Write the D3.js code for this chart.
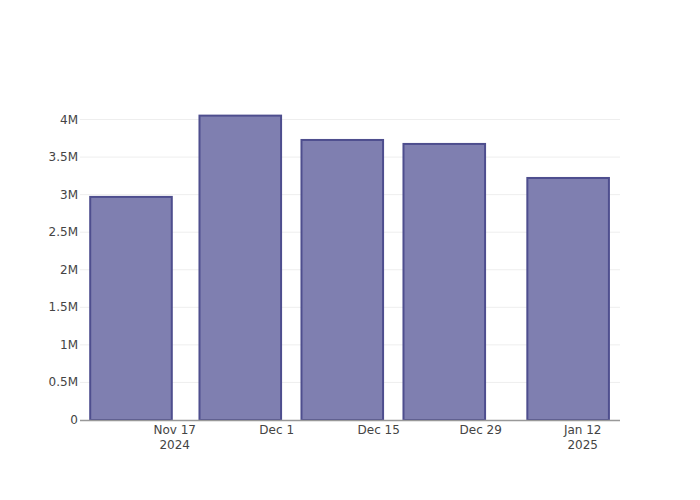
<!DOCTYPE html>
<html>
<head>
<meta charset="utf-8">
<script src="https://cdn.jsdelivr.net/npm/d3@7"></script>
<style>
  html, body { margin: 0; padding: 0; background: #fff; }
  svg { display: block; }
</style>
</head>
<body>
<div id="chart"></div>
<script>
// ---- data ----
const barDates = ["2024-11-11", "2024-11-26", "2024-12-10", "2024-12-24", "2025-01-10"];
const barValues = [2970000, 4052000, 3728000, 3675000, 3222000];
const xTickDates = ["2024-11-17", "2024-12-01", "2024-12-15", "2024-12-29", "2025-01-12"];
const xTickLabels = [["Nov 17", "2024"], ["Dec 1"], ["Dec 15"], ["Dec 29"], ["Jan 12", "2025"]];
const yTickValues = [0, 500000, 1000000, 1500000, 2000000, 2500000, 3000000, 3500000, 4000000];
const yTickLabels = ["0", "0.5M", "1M", "1.5M", "2M", "2.5M", "3M", "3.5M", "4M"];

// ---- layout ----
const W = 700, H = 500;
const margin = { l: 80, r: 80, t: 100, b: 80 };
const parse = d3.utcParse("%Y-%m-%d");
const DAY = 86400000;

const svg = d3.select("#chart").append("svg").attr("width", W).attr("height", H);

const x = d3.scaleUtc()
  .domain([parse("2024-11-04"), new Date(parse("2025-01-17").getTime() + 0.12 * DAY)])
  .range([margin.l, W - margin.r]);
const y = d3.scaleLinear()
  .domain([0, 4260000])
  .range([H - margin.b, margin.t]);

const font = "'DejaVu Sans', Verdana, sans-serif";

// grid
svg.append("g").selectAll("line").data(yTickValues.filter(v => v > 0)).join("line")
  .attr("x1", margin.l).attr("x2", W - margin.r)
  .attr("y1", d => y(d)).attr("y2", d => y(d))
  .attr("stroke", "#eeeeee").attr("stroke-width", 1);

// bars
const dates = barDates.map(parse);
const minGap = d3.min(d3.pairs(dates), ([a, b]) => b - a);
const halfW = 0.4 * minGap;
svg.append("g").selectAll("rect").data(barValues).join("rect")
  .attr("x", (d, i) => x(new Date(dates[i].getTime() - halfW)))
  .attr("width", (d, i) => x(new Date(dates[i].getTime() + halfW)) - x(new Date(dates[i].getTime() - halfW)))
  .attr("y", d => y(d))
  .attr("height", d => y(0) - y(d))
  .attr("fill", "#7f7fb0")
  .attr("stroke", "#4e4e8e")
  .attr("stroke-width", 2);

// x axis line
svg.append("line")
  .attr("x1", margin.l).attr("x2", W - margin.r)
  .attr("y1", y(0) + 0.5).attr("y2", y(0) + 0.5)
  .attr("stroke", "#999").attr("stroke-width", 1.5);

// y tick labels
svg.append("g").selectAll("text").data(yTickValues).join("text")
  .attr("x", margin.l - 2)
  .attr("y", d => y(d) + 4)
  .attr("text-anchor", "end")
  .attr("font-family", font).attr("font-size", 12).attr("fill", "#444")
  .text((d, i) => yTickLabels[i]);

// x tick labels
const xt = svg.append("g").selectAll("text").data(xTickDates).join("text")
  .attr("text-anchor", "middle")
  .attr("font-family", font).attr("font-size", 12).attr("fill", "#444");
xt.each(function(d, i) {
  const t = d3.select(this);
  const cx = x(parse(d));
  xTickLabels[i].forEach((line, j) => {
    t.append("tspan").attr("x", cx).attr("y", 433.5 + j * 15.6).text(line);
  });
});
</script>
</body>
</html>
